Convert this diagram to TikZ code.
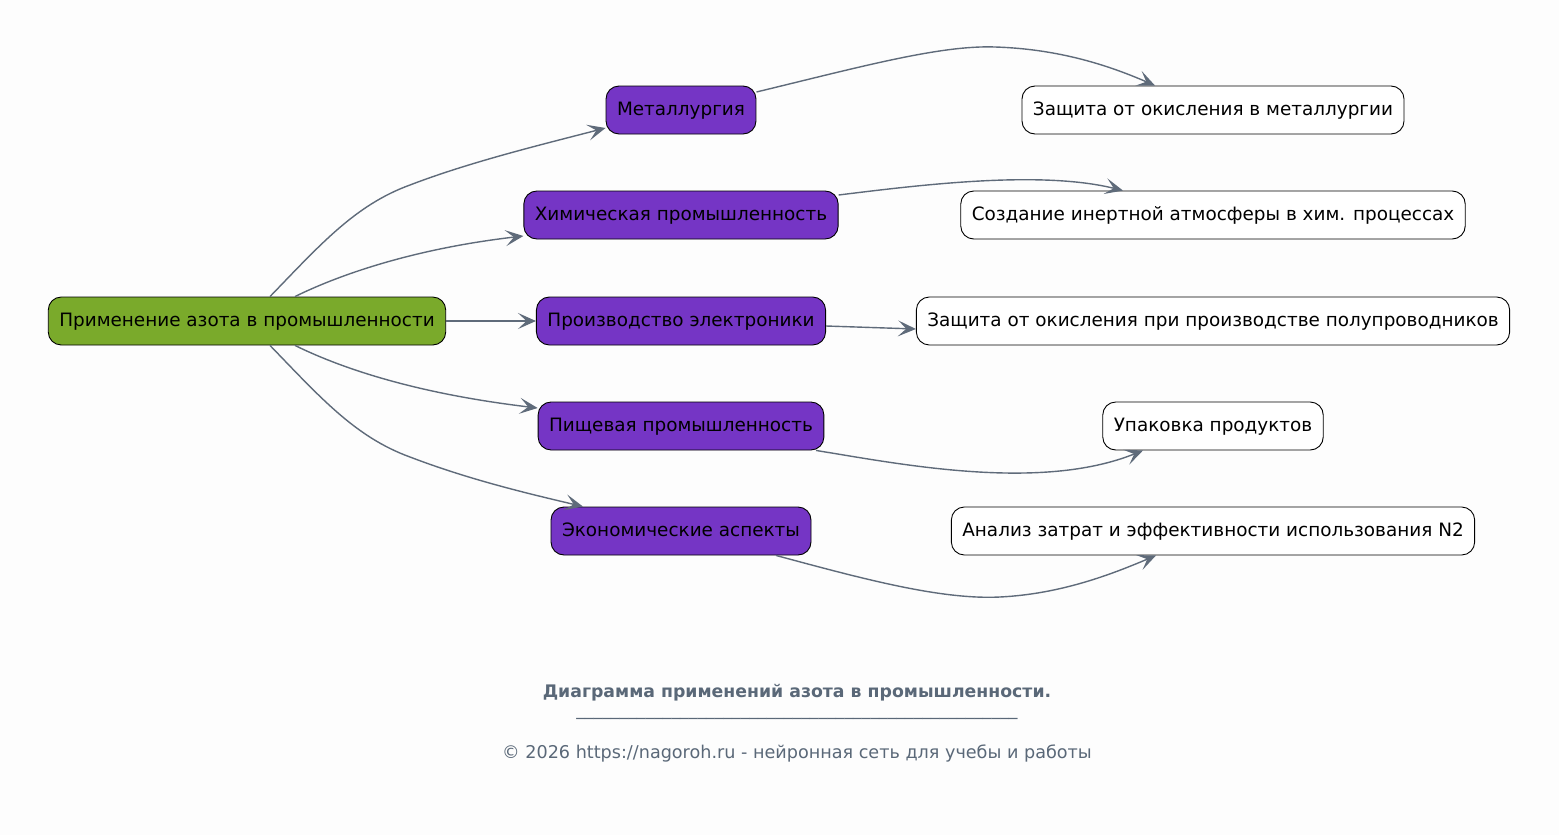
\documentclass[tikz,border=0pt]{standalone}
\usepackage{fontspec}
\setmainfont{DejaVu Sans}
\usetikzlibrary{arrows.meta}
\definecolor{bg}{HTML}{FDFDFD}
\definecolor{rootfill}{HTML}{7AAA2B}
\definecolor{midfill}{HTML}{7535C5}
\definecolor{edgecol}{HTML}{5F6B7A}
\definecolor{footcol}{HTML}{5A6878}
\tikzset{
  box/.style={draw=black, line width=0.9pt, rounded corners=13pt, minimum height=48pt,
    inner xsep=11pt, inner ysep=0pt, text height=14pt, text depth=3pt,
    font=\fontsize{18.4}{22}\selectfont, text=black},
  rootbox/.style={box, fill=rootfill},
  midbox/.style={box, fill=midfill},
  leafbox/.style={box, fill=white},
  conn/.style={draw=edgecol, line width=1.4pt, -{Stealth[length=18pt,width=16pt,inset=8.5pt]}},
}
\begin{document}
\begin{tikzpicture}[x=1pt,y=-1pt]
\fill[bg] (0,0) rectangle (1559,835);
\useasboundingbox (0,0) rectangle (1559,835);

\node[rootbox] (root) at (247,321) {Применение азота в промышленности};
\node[midbox] (met) at (681,110) {Металлургия};
\node[midbox] (chem) at (681,215) {Химическая промышленность};
\node[midbox] (prod) at (681,321) {Производство электроники};
\node[midbox] (food) at (681,426) {Пищевая промышленность};
\node[midbox] (econ) at (681,531) {Экономические аспекты};

\node[leafbox] (metR) at (1213,110) {Защита от окисления в металлургии};
\node[leafbox] (chemR) at (1213,215) {Создание инертной атмосферы в хим. процессах};
\node[leafbox] (prodR) at (1213,321) {Защита от окисления при производстве полупроводников};
\node[leafbox] (foodR) at (1213,426) {Упаковка продуктов};
\node[leafbox] (econR) at (1213,531) {Анализ затрат и эффективности использования N2};

\draw[conn] ([xshift=23pt]root.north) .. controls (320,245) and (355,205) .. (410,185)
  .. controls (470,162) and (540,145) .. ([yshift=-18pt]met.west);
\draw[conn] ([xshift=48pt]root.north) .. controls (345,272) and (420,248) .. ([yshift=-21pt]chem.west);
\draw[conn] (root.east) -- (prod.west);
\draw[conn] ([xshift=48pt]root.south) .. controls (345,370) and (420,394) .. ([yshift=18pt]food.west);
\draw[conn] ([xshift=23pt]root.south) .. controls (320,397) and (355,437) .. (410,457)
  .. controls (470,480) and (530,494) .. ([xshift=-98pt]econ.north);

\draw[conn] ([yshift=18pt]met.east) .. controls (860,67) and (940,45) .. (995,47)
  .. controls (1060,49) and (1110,66) .. ([xshift=-58pt]metR.north);
\draw[conn] ([yshift=20pt]chem.east) .. controls (920,185) and (1040,170) .. ([xshift=-90pt]chemR.north);
\draw[conn] ([yshift=-5pt]prod.east) -- ([yshift=-8pt]prodR.west);
\draw[conn] ([xshift=135pt]food.south) .. controls (900,464) and (1040,492) .. ([xshift=-70pt]foodR.south);
\draw[conn] ([xshift=95pt]econ.south) .. controls (860,578) and (940,600) .. (1000,597)
  .. controls (1060,594) and (1110,575) .. ([xshift=-57pt]econR.south);

\node[font=\fontsize{17.3}{20}\selectfont\bfseries, text=footcol] (title) at (797,693) {Диаграмма применений азота в промышленности.};
\node[font=\fontsize{17.3}{20}\selectfont, text=footcol] (rule) at (797,718) {\_\_\_\_\_\_\_\_\_\_\_\_\_\_\_\_\_\_\_\_\_\_\_\_\_\_\_\_\_\_\_\_\_\_\_\_\_\_\_\_\_\_\_\_\_\_\_\_\_\_\_};
\node[font=\fontsize{17.6}{20}\selectfont, text=footcol] (copy) at (797,753) {© 2026 https://nagoroh.ru - нейронная сеть для учебы и работы};
\end{tikzpicture}
\end{document}
